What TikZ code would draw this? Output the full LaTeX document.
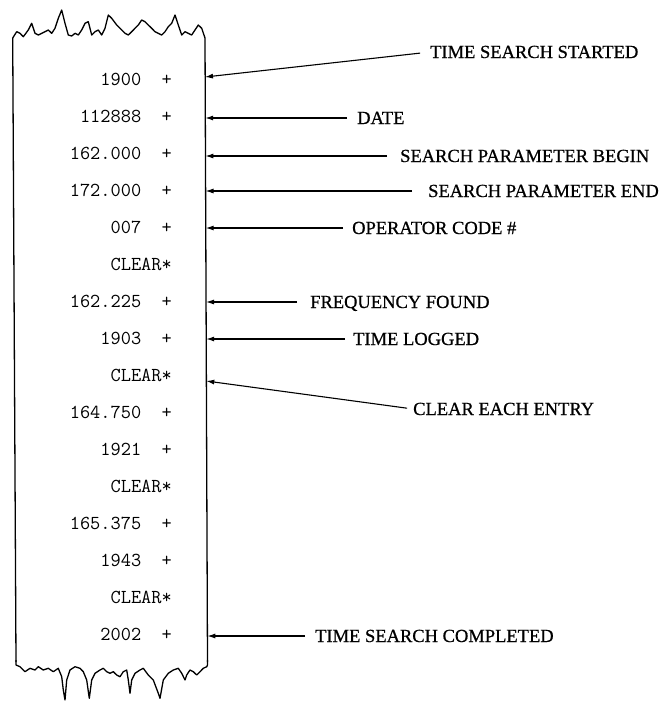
\documentclass[tikz,border=0pt]{standalone}
\usepackage{fontspec}
\setmainfont{Liberation Serif}
\newfontfamily\labfont[FakeBold=0.7]{Liberation Serif}
\usetikzlibrary{arrows.meta}
\newcommand\tplus{\hphantom{00}+}
\begin{document}
\begin{tikzpicture}[x=1pt,y=-1pt,
 tape/.style={line width=1.3pt, line join=round},
 entry/.style={anchor=east, inner sep=0pt, font=\ttfamily\fontsize{19.8}{19.8}\selectfont, text height=11pt, text depth=0pt},
 lab/.style={anchor=west, inner sep=0pt, font=\labfont\fontsize{18.5}{18.5}\selectfont, text height=12pt, text depth=0pt},
 arr/.style={line width=1.1pt, -{Latex[length=8pt,width=5pt]}}]
\useasboundingbox (0,0) rectangle (670,702);
% tape
\draw[tape] (205,38) -- (207.5,662);
\draw[tape] (12.7,38) -- (16,662);
\draw[tape] (12.7,38) -- (16.7,31.7) -- (20,33.3) -- (23.3,36.7) -- (28.3,30) -- (31.7,23.3) -- (35,33.3) -- (38.3,35) -- (41.7,33.3) -- (45,31.7) -- (48.3,30) -- (51.7,33.3) -- (55,28.3) -- (58.3,18.3) -- (61.7,10) -- (65,23.3) -- (68.3,35) -- (71.7,36) -- (75,33.3) -- (78.3,35) -- (81.7,30) -- (85,23.3) -- (88.3,21.7) -- (91.7,35) -- (95,31.7) -- (98.3,30) -- (101.7,35) -- (105,28.3) -- (108.3,15) -- (111.7,18.3) -- (116.7,25) -- (121.7,30) -- (125,33.3) -- (128.3,35) -- (131.7,31.7) -- (135,28.3) -- (138.3,25) -- (141.7,20) -- (145,21.7) -- (148.3,25) -- (151.7,28.3) -- (155,31.7) -- (158.3,33.3) -- (161.7,35) -- (165,31.7) -- (168.3,26.7) -- (171.7,23.3) -- (175,15) -- (178.3,25) -- (181.7,35) -- (185,31.7) -- (188.3,33.3) -- (191.7,35) -- (195,30) -- (198.3,25) -- (201.7,28.3) -- (205,38);
\draw[tape] (16,660) -- (16,665) -- (20,666.7) -- (25,671.7) -- (30,668.3) -- (35,670) -- (38.3,666.7) -- (43.3,670) -- (48.3,668.3) -- (53.3,671.7) -- (58.3,668.3) -- (61.7,676.7) -- (63.3,690) -- (65,700) -- (66.7,680) -- (70,670) -- (75,666.7) -- (80,668.3) -- (83.3,671.7) -- (86.7,680) -- (89.3,698.3) -- (91.7,680) -- (95,673.3) -- (100,670) -- (103.3,668.3) -- (106.7,671.7) -- (110,673.3) -- (113.3,671.7) -- (116.7,675) -- (120,676.7) -- (123.3,671.7) -- (126.7,670) -- (128.3,680) -- (130,693.3) -- (131.7,680) -- (135,673.3) -- (140,670) -- (143.3,668.3) -- (148.3,675) -- (153.3,680) -- (158.3,693.3) -- (160,698.3) -- (163.3,680) -- (168.3,673.3) -- (173.3,670) -- (178.3,668.3) -- (181.7,673.3) -- (185,680) -- (186.7,675) -- (190,670) -- (193.3,671.7) -- (196.7,675) -- (200,671.7) -- (203.3,668.3) -- (206.7,666.7) -- (207.5,665) -- (207.5,660);
% entries
\node[entry] (r0) at (172,80) {1900\tplus};
\node[entry] (r1) at (172,117) {112888\tplus};
\node[entry] (r2) at (172,154) {162.000\tplus};
\node[entry] (r3) at (172,191) {172.000\tplus};
\node[entry] (r4) at (172,228) {007\tplus};
\node[entry] (r5) at (172,265) {CLEAR*};
\node[entry] (r6) at (172,302) {162.225\tplus};
\node[entry] (r7) at (172,339) {1903\tplus};
\node[entry] (r8) at (172,376) {CLEAR*};
\node[entry] (r9) at (172,413) {164.750\tplus};
\node[entry] (r10) at (172,450) {1921\tplus};
\node[entry] (r11) at (172,487) {CLEAR*};
\node[entry] (r12) at (172,524) {165.375\tplus};
\node[entry] (r13) at (172,561) {1943\tplus};
\node[entry] (r14) at (172,598) {CLEAR*};
\node[entry] (r15) at (172,635) {2002\tplus};
% arrow targets on tape edge
\coordinate (e0) at (205,77);
\coordinate (e1) at (205.2,118);
\coordinate (e2) at (205.4,156);
\coordinate (e3) at (205.5,191);
\coordinate (e4) at (205.7,228);
\coordinate (e6) at (206,302);
\coordinate (e7) at (206.2,339);
\coordinate (e8) at (206.3,381);
\coordinate (e15) at (207.3,636);
% labels
\node[lab] (l0) at (430,52) {TIME SEARCH STARTED};
\node[lab] (l1) at (357,118) {DATE};
\node[lab] (l2) at (400,156) {SEARCH PARAMETER BEGIN};
\node[lab] (l3) at (428,191) {SEARCH PARAMETER END};
\node[lab] (l4) at (352,228) {OPERATOR CODE \#};
\node[lab] (l6) at (310,302) {FREQUENCY FOUND};
\node[lab] (l7) at (353,339) {TIME LOGGED};
\node[lab] (l8) at (413,409) {CLEAR EACH ENTRY};
\node[lab] (l15) at (315,636) {TIME SEARCH COMPLETED};
% connectors
\draw[arr, shorten <=10pt] (l0.west) -- (e0);
\draw[arr, shorten <=10pt] (l1.west) -- (e1);
\draw[arr, shorten <=13pt] (l2.west) -- (e2);
\draw[arr, shorten <=16pt] (l3.west) -- (e3);
\draw[arr, shorten <=9pt] (l4.west) -- (e4);
\draw[arr, shorten <=13pt] (l6.west) -- (e6);
\draw[arr, shorten <=8pt] (l7.west) -- (e7);
\draw[arr, shorten <=6pt] (l8.west) -- (e8);
\draw[arr, shorten <=10pt] (l15.west) -- (e15);
\end{tikzpicture}
\end{document}
